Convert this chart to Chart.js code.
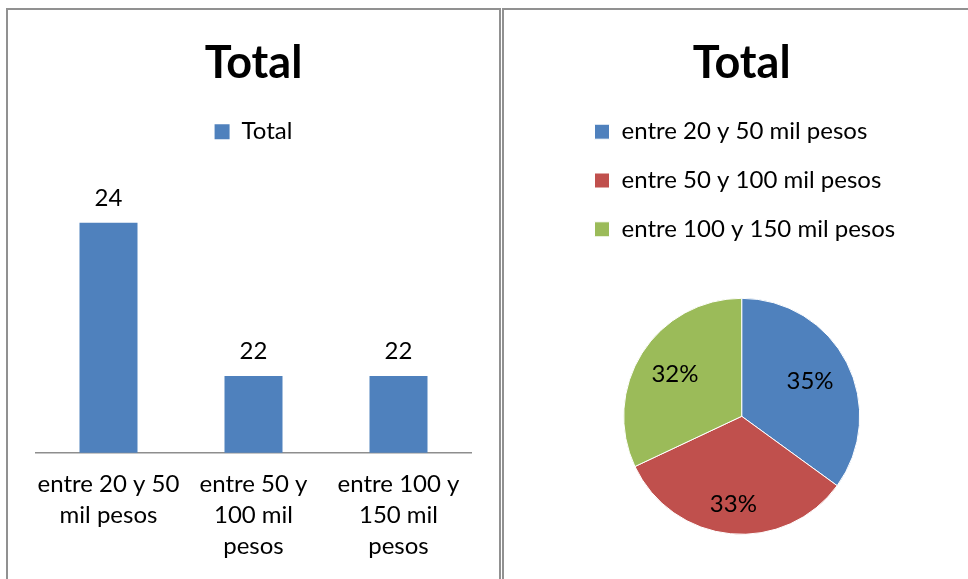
<!DOCTYPE html>
<html lang="es">
<head>
<meta charset="utf-8">
<title>Total</title>
<script src="https://cdn.jsdelivr.net/npm/chart.js@4.4.1/dist/chart.umd.min.js"></script>
<style>
  html, body { margin: 0; padding: 0; background: #ffffff; overflow: hidden; width: 968px; height: 579px; }
  .panel { position: absolute; box-sizing: border-box; border-color: #919191; border-style: solid; }
  #panelLeft  { left: 6px;   top: 8px; width: 495px; height: 600px; border-width: 2px 2px 0 2px; }
  #panelRight { left: 502px; top: 8px; width: 480px; height: 600px; border-width: 2px 0 0 2px; }
  canvas { position: absolute; }
  #barCanvas { left: 9px;   top: 10px; }
  #pieCanvas { left: 505px; top: 10px; }
</style>
</head>
<body>
<div class="panel" id="panelLeft"></div>
<div class="panel" id="panelRight"></div>
<canvas id="barCanvas" width="490" height="569"></canvas>
<canvas id="pieCanvas" width="463" height="600"></canvas>
<script>
// Income bands (series categories)
const categories = ['entre 20 y 50 mil pesos', 'entre 50 y 100 mil pesos', 'entre 100 y 150 mil pesos'];
// Category axis labels as wrapped under the bars
const barTickLabels = [
  ['entre 20 y 50', 'mil pesos'],
  ['entre 50 y', '100 mil', 'pesos'],
  ['entre 100 y', '150 mil', 'pesos']
];
// Count per band
const totals = [24, 22, 22];
// Share per band, in percent
const sharePercent = [35, 33, 32];

const seriesName = 'Total';
const chartTitle = 'Total';

const BLUE = '#4F81BD', RED = '#C0504D', GREEN = '#9BBB59';
const FONT = 'Lato';

// Writes each bar's value above it
const barValueLabels = {
  id: 'barValueLabels',
  afterDatasetsDraw(chart, args, opts) {
    const ctx = chart.ctx;
    chart.data.datasets.forEach((ds, i) => {
      chart.getDatasetMeta(i).data.forEach((bar, j) => {
        ctx.save();
        ctx.font = opts.size + 'px ' + FONT;
        ctx.fillStyle = opts.color;
        ctx.textAlign = 'center';
        ctx.textBaseline = 'middle';
        ctx.fillText(String(ds.data[j]), bar.x, bar.y - opts.offset);
        ctx.restore();
      });
    });
  }
};

// Writes the percentage inside each slice
const slicePercentLabels = {
  id: 'slicePercentLabels',
  afterDatasetsDraw(chart, args, opts) {
    const ctx = chart.ctx;
    const ds = chart.data.datasets[0];
    chart.getDatasetMeta(0).data.forEach((arc, j) => {
      const mid = (arc.startAngle + arc.endAngle) / 2;
      const r = arc.outerRadius * opts.radial[j];
      ctx.save();
      ctx.font = opts.size + 'px ' + FONT;
      ctx.fillStyle = opts.color;
      ctx.textAlign = 'center';
      ctx.textBaseline = 'middle';
      ctx.fillText(ds.data[j] + '%', arc.x + Math.cos(mid) * r, arc.y + Math.sin(mid) * r);
      ctx.restore();
    });
  }
};

Chart.defaults.font.family = FONT;
Chart.defaults.color = '#000000';

new Chart(document.getElementById('barCanvas'), {
  type: 'bar',
  data: {
    labels: barTickLabels,
    datasets: [{
      label: seriesName,
      data: totals,
      backgroundColor: BLUE,
      borderWidth: 0,
      categoryPercentage: 1,
      barPercentage: 0.4
    }]
  },
  options: {
    responsive: false,
    animation: false,
    layout: { padding: { left: 27, right: 28, top: 0, bottom: 1.3 } },
    scales: {
      x: {
        grid: { display: false, drawTicks: false },
        border: { display: true, color: '#8e8e8e', width: 1.5 },
        ticks: { color: '#000000', padding: 16, maxRotation: 0, autoSkip: false,
                 font: { family: FONT, size: 24, lineHeight: '31px' } }
      },
      y: { display: false, min: 21, max: 24.9 }
    },
    plugins: {
      title: { display: true, text: chartTitle, color: '#000000',
               font: { family: FONT, size: 45, weight: 'bold' },
               padding: { top: 26, bottom: 19.7 } },
      legend: { display: true, position: 'top',
                labels: { boxWidth: 15, boxHeight: 15, padding: 10, color: '#000000',
                          font: { family: FONT, size: 24 } } },
      tooltip: { enabled: false },
      barValueLabels: { size: 24, color: '#000000', offset: 24.5 }
    }
  },
  plugins: [barValueLabels]
});

new Chart(document.getElementById('pieCanvas'), {
  type: 'pie',
  data: {
    labels: categories,
    datasets: [{
      label: seriesName,
      data: sharePercent,
      backgroundColor: [BLUE, RED, GREEN],
      borderColor: '#ffffff',
      borderWidth: 1,
      radius: 118
    }]
  },
  options: {
    responsive: false,
    animation: false,
    layout: { padding: { left: 64.7, right: 54.3, top: 0, bottom: 28.7 } },
    plugins: {
      title: { display: true, text: chartTitle, color: '#000000',
               font: { family: FONT, size: 45, weight: 'bold' },
               padding: { top: 26, bottom: 4.9 } },
      legend: { display: true, position: 'top', align: 'start',
                labels: { boxWidth: 15, boxHeight: 15, padding: 24.8, color: '#000000',
                          font: { family: FONT, size: 24 } } },
      tooltip: { enabled: false },
      slicePercentLabels: { size: 24, color: '#000000', radial: [0.65, 0.75, 0.67] }
    }
  },
  plugins: [slicePercentLabels]
});
</script>
</body>
</html>
